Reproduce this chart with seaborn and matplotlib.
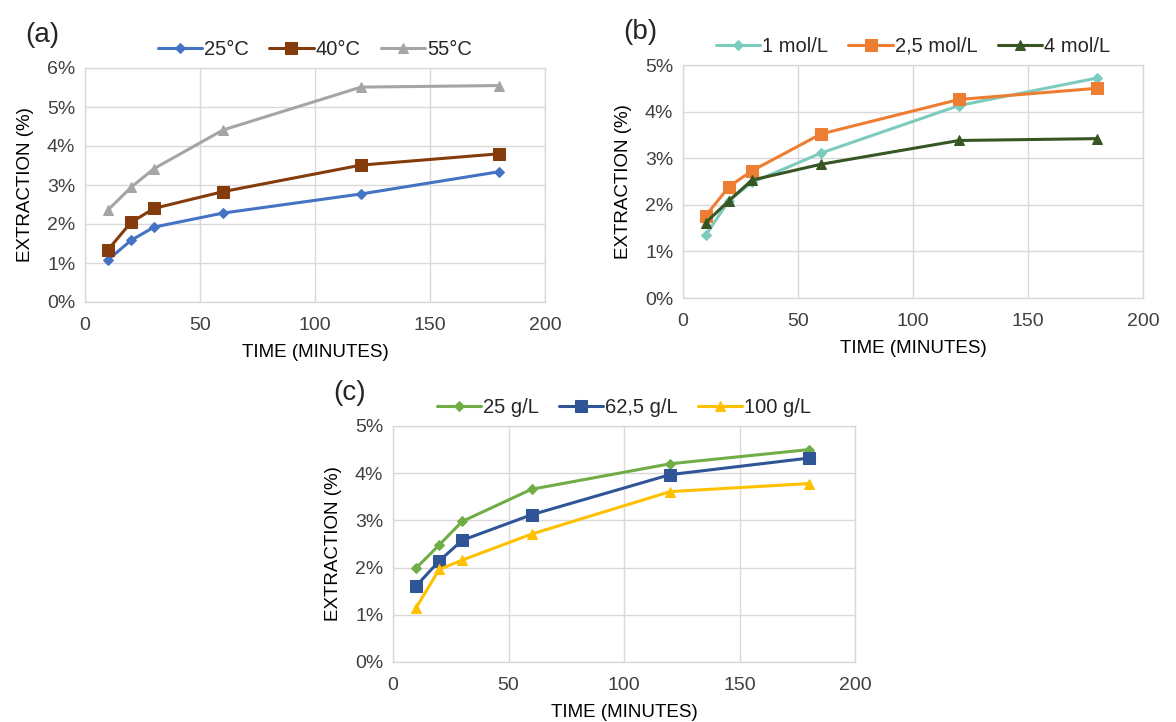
import matplotlib
matplotlib.use('Agg')
import matplotlib.pyplot as plt
import seaborn as sns
import pandas as pd
from matplotlib.ticker import PercentFormatter, MultipleLocator

sns.set_style('whitegrid')
plt.rcParams['font.family'] = ['Liberation Sans', 'DejaVu Sans']

time = [10, 20, 30, 60, 120, 180]

# (a) temperature
temp_labels = ['25°C', '40°C', '55°C']
temp_25 = [1.08, 1.58, 1.92, 2.28, 2.77, 3.34]
temp_40 = [1.34, 2.04, 2.40, 2.83, 3.51, 3.80]
temp_55 = [2.36, 2.94, 3.42, 4.41, 5.51, 5.55]

# (b) acid concentration
conc_labels = ['1 mol/L', '2,5 mol/L', '4 mol/L']
conc_1 = [1.36, 2.09, 2.48, 3.11, 4.13, 4.72]
conc_25 = [1.77, 2.39, 2.73, 3.52, 4.26, 4.50]
conc_4 = [1.62, 2.09, 2.53, 2.87, 3.38, 3.42]

# (c) solid load
load_labels = ['25 g/L', '62,5 g/L', '100 g/L']
load_25 = [1.99, 2.48, 2.98, 3.66, 4.20, 4.50]
load_625 = [1.61, 2.14, 2.58, 3.12, 3.97, 4.32]
load_100 = [1.15, 1.96, 2.16, 2.71, 3.61, 3.78]

panels = [
    dict(tag='(a)', rect=[85/1176, 1-302/722, 460/1176, 234/722], ymax=6,
         labels=temp_labels, series=[temp_25, temp_40, temp_55],
         colors=['#4472C4', '#843C0C', '#A5A5A5']),
    dict(tag='(b)', rect=[683/1176, 1-298/722, 460/1176, 233/722], ymax=5,
         labels=conc_labels, series=[conc_1, conc_25, conc_4],
         colors=['#7DCBBE', '#ED7D31', '#375623']),
    dict(tag='(c)', rect=[393/1176, 1-662/722, 462/1176, 236/722], ymax=5,
         labels=load_labels, series=[load_25, load_625, load_100],
         colors=['#70AD47', '#2F5597', '#FFC000']),
]
markers = ['D', 's', '^']
msizes = [5, 8, 7]

fig = plt.figure(figsize=(11.76, 7.22), dpi=100)

for p in panels:
    ax = fig.add_axes(p['rect'])
    for lab, vals, col, mk, ms in zip(p['labels'], p['series'], p['colors'], markers, msizes):
        df = pd.DataFrame({'time': time, 'ext': vals})
        sns.lineplot(data=df, x='time', y='ext', ax=ax, color=col, marker=mk,
                     markersize=ms, markeredgecolor=col, linewidth=2.2, label=lab)
    ax.set_xlim(0, 200)
    ax.set_ylim(0, p['ymax'])
    ax.xaxis.set_major_locator(MultipleLocator(50))
    ax.yaxis.set_major_locator(MultipleLocator(1))
    ax.yaxis.set_major_formatter(PercentFormatter(decimals=0))
    ax.grid(color='#D9D9D9', linewidth=1)
    for s in ax.spines.values():
        s.set_color('#D9D9D9')
        s.set_linewidth(1)
    ax.tick_params(labelsize=14, colors='#404040', length=0)
    ax.tick_params(axis='x', pad=11)
    ax.tick_params(axis='y', pad=7)
    ax.set_xlabel('TIME (MINUTES)', fontsize=13.5, color='#000000', labelpad=7)
    ax.set_ylabel('EXTRACTION (%)', fontsize=13.5, color='#000000', labelpad=9)
    ax.legend(loc='lower center', bbox_to_anchor=(0.5, 1.0), ncol=3, frameon=False,
              fontsize=14.5, handlelength=2.2, handletextpad=0.1, columnspacing=1.0,
              borderaxespad=0.05)
    ax.text(-0.13, 1.14, p['tag'], transform=ax.transAxes, fontsize=20, va='center')

fig.savefig('out.png', dpi=100)
